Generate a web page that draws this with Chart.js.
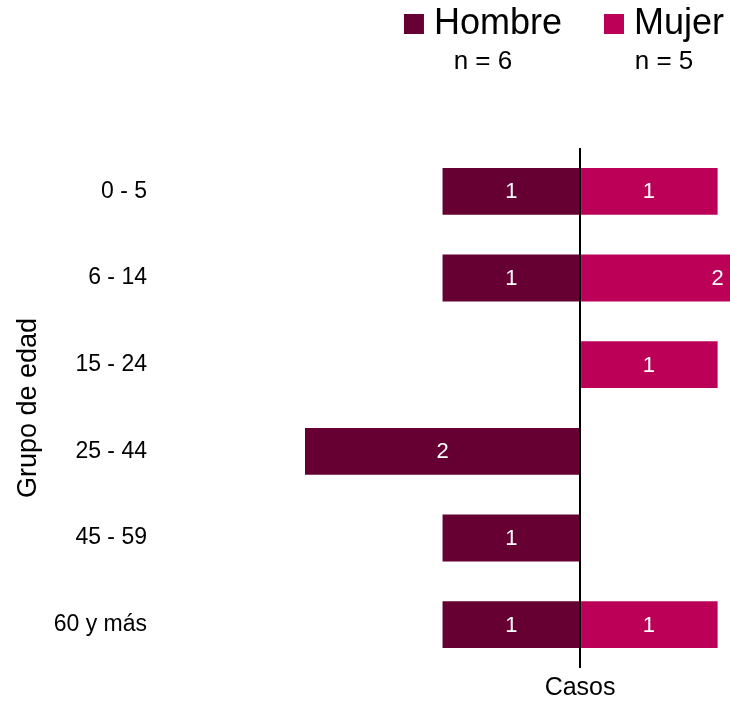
<!DOCTYPE html>
<html lang="es">
<head>
    <meta charset="UTF-8">
    <title>Casos por grupo de edad y sexo</title>
    <style>
        html, body { margin: 0; padding: 0; background: #ffffff; }
        canvas { display: block; }
    </style>
    <script src="https://cdn.jsdelivr.net/npm/chart.js"></script>
</head>
<body>
    <canvas id="myChart" width="730" height="701"></canvas>

    <script>
        // data
        const grupos = ['0 - 5', '6 - 14', '15 - 24', '25 - 44', '45 - 59', '60 y más'];
        const hombre = [1, 1, 0, 2, 1, 1];
        const mujer = [1, 2, 1, 0, 0, 1];
        const seriesNames = ['Hombre', 'Mujer'];
        const seriesN = ['n = 6', 'n = 5'];
        const colors = ['#660033', '#BC0058'];
        const xTitle = 'Casos';
        const yTitle = 'Grupo de edad';

        const FONT = "'Liberation Sans', Arial, sans-serif";

        // white numbers in the middle of each bar + x title under the zero line
        const barLabels = {
            id: 'barLabels',
            afterDatasetsDraw(chart) {
                const ctx = chart.ctx;
                const xs = chart.scales.x;
                ctx.save();
                ctx.fillStyle = '#ffffff';
                ctx.font = '22px ' + FONT;
                ctx.textAlign = 'center';
                ctx.textBaseline = 'middle';
                chart.data.datasets.forEach((ds, i) => {
                    const meta = chart.getDatasetMeta(i);
                    meta.data.forEach((bar, j) => {
                        const v = ds.data[j];
                        if (!v) return;
                        ctx.fillText(String(Math.abs(v)), xs.getPixelForValue(v / 2), bar.y + 1);
                    });
                });
                ctx.fillStyle = '#000000';
                ctx.font = '25px ' + FONT;
                ctx.fillText(xTitle, xs.getPixelForValue(0), chart.chartArea.bottom + 20);
                ctx.restore();
            }
        };

        // legend on top with the n under each item
        const topLegend = {
            id: 'topLegend',
            afterDraw(chart) {
                const ctx = chart.ctx;
                ctx.save();
                ctx.font = '36px ' + FONT;
                const box = 20, gapBox = 10, gapItem = 42;
                const widths = chart.data.datasets.map(ds => box + gapBox + ctx.measureText(ds.label).width);
                const total = widths.reduce((a, b) => a + b, 0) + gapItem * (widths.length - 1);
                let x = 724 - total;
                chart.data.datasets.forEach((ds, i) => {
                    ctx.fillStyle = ds.backgroundColor;
                    ctx.fillRect(x, 14, box, box);
                    ctx.fillStyle = '#000000';
                    ctx.font = '36px ' + FONT;
                    ctx.textAlign = 'left';
                    ctx.textBaseline = 'middle';
                    ctx.fillText(ds.label, x + box + gapBox, 24);
                    ctx.font = '26px ' + FONT;
                    ctx.textAlign = 'center';
                    ctx.fillText(seriesN[i], x + widths[i] / 2, 62);
                    x += widths[i] + gapItem;
                });
                ctx.restore();
            }
        };

        const ctx = document.getElementById('myChart').getContext('2d');
        const myChart = new Chart(ctx, {
            type: 'bar',
            data: {
                labels: grupos,
                datasets: [
                    {
                        label: seriesNames[0],
                        data: hombre.map(v => -v),
                        backgroundColor: colors[0]
                    },
                    {
                        label: seriesNames[1],
                        data: mujer,
                        backgroundColor: colors[1]
                    }
                ]
            },
            options: {
                indexAxis: 'y',
                responsive: false,
                animation: false,
                devicePixelRatio: 1,
                datasets: {
                    bar: { barPercentage: 0.54, categoryPercentage: 1 }
                },
                layout: { padding: { top: 148, right: 0, bottom: 33, left: 0 } },
                plugins: {
                    legend: { display: false },
                    tooltip: { enabled: false }
                },
                scales: {
                    x: {
                        stacked: true,
                        min: -2,
                        max: 1.09,
                        ticks: { display: false, stepSize: 1 },
                        border: { display: false },
                        grid: {
                            drawTicks: false,
                            lineWidth: 2,
                            color: c => (c.tick && c.tick.value === 0) ? '#000000' : 'rgba(0,0,0,0)'
                        }
                    },
                    y: {
                        stacked: true,
                        border: { display: false },
                        grid: { display: false, drawTicks: false },
                        ticks: {
                            color: '#000000',
                            font: { family: FONT, size: 23 },
                            padding: 158
                        },
                        title: {
                            display: true,
                            text: yTitle,
                            color: '#000000',
                            font: { family: FONT, size: 27, lineHeight: 1 },
                            padding: { top: 15, bottom: 0 }
                        },
                        afterFit(scale) {
                            scale.width = 305;
                            // the big tick padding is only meant to push labels left
                            scale.paddingTop = 0;
                            scale.paddingBottom = 0;
                        }
                    }
                }
            },
            plugins: [barLabels, topLegend]
        });
    </script>
</body>
</html>
